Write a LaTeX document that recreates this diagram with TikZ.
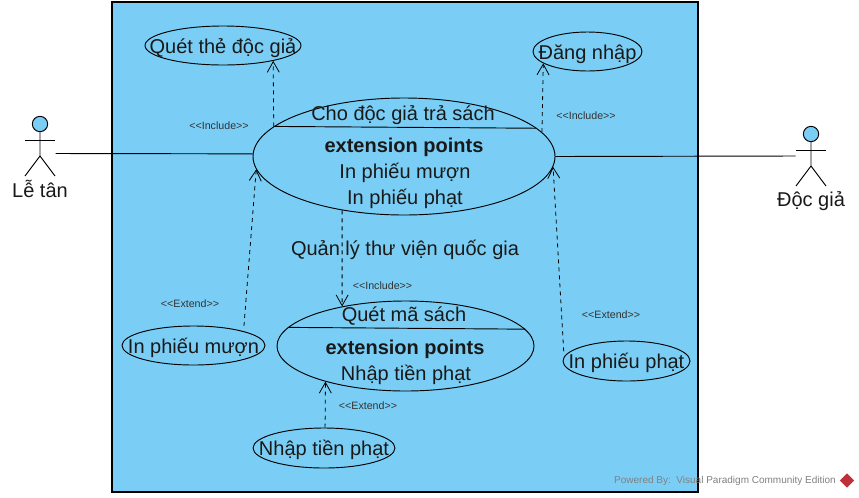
\documentclass[tikz,border=0pt]{standalone}
\usepackage{fontspec}
\setmainfont{Liberation Sans}
\usepackage{xcolor}
\usetikzlibrary{arrows.meta, positioning, shapes.geometric}
\definecolor{sysblue}{RGB}{122,206,245}
\definecolor{logored}{RGB}{190,50,55}

\begin{document}
\begin{tikzpicture}[
        x=0.75pt, y=-0.75pt,
        system/.style={rectangle, draw=black, line width=0.8pt, fill=sysblue, minimum width=439.5pt, minimum height=367.5pt, inner sep=0pt},
        usecase/.style={ellipse, draw=black, line width=0.7pt, inner sep=0pt, fill=sysblue},
        label/.style={font=\fontsize{15}{15}\selectfont, text=black!90, inner sep=0pt, text height=11pt, text depth=3pt},
        boldlabel/.style={label, font=\fontsize{15}{15}\selectfont\bfseries},
        stereo/.style={font=\fontsize{8}{8}\selectfont, text=black!80, inner sep=0pt},
        assoc/.style={line width=0.7pt},
        relation/.style={dashed, line width=0.6pt, -{Straight Barb[length=8pt, width=9pt]}},
        actorhead/.style={circle, draw=black, line width=0.7pt, fill=sysblue, minimum size=11.5pt, inner sep=0pt},
        actor/.pic={
            \node[actorhead] (-head) at (0,0) {};
            \draw[assoc] (-head.south) -- (0,32) -- (-15,52);
            \draw[assoc] (0,32) -- (15,52);
            \draw[assoc] (-15,16) -- (15,16);
        }
    ]
        \useasboundingbox (0,0) rectangle (859,497);

        % System
        \node[system] (library) at (405,247) {};
        \node[label] (libraryName) at (405,249.7) {Quản lý thư viện quốc gia};

        % Actors
        \pic (leTan) at (40,124) {actor};
        \pic (docGia) at (811,134) {actor};
        \node[label] (leTanName) at (40,191.9) {Lễ tân};
        \node[label] (docGiaName) at (811,201.4) {Độc giả};
        \coordinate (leTanHand) at (55.5,153.5);
        \coordinate (docGiaHand) at (795.5,156);

        % Use cases
        \node[usecase, minimum width=226.5pt, minimum height=87.75pt] (traSach) at (404,156.5) {};
        \node[label] (traSachName) at (403,114.7) {Cho độc giả trả sách};
        \node[boldlabel] (traSachExt) at (404,146.7) {extension points};
        \node[label] (traSachMuon) at (405,172.7) {In phiếu mượn};
        \node[label] (traSachPhat) at (405,198.7) {In phiếu phạt};
        \node[usecase, minimum width=192.75pt, minimum height=67.5pt] (quetMa) at (405.5,346) {};
        \node[label] (quetMaName) at (404,316.4) {Quét mã sách};
        \node[boldlabel] (quetMaExt) at (405,348.7) {extension points};
        \node[label] (quetMaTien) at (406,374.7) {Nhập tiền phạt};
        \node[usecase, minimum width=117pt, minimum height=29.25pt] (quetThe) at (223,45.5) {};
        \node[label] at (223,47.7) {Quét thẻ độc giả};
        \node[usecase, minimum width=81.75pt, minimum height=29.25pt] (dangNhap) at (587.5,51.5) {};
        \node[label] at (587.5,53.7) {Đăng nhập};
        \node[usecase, minimum width=107.25pt, minimum height=29.25pt] (inMuon) at (193.5,345.5) {};
        \node[label] at (193.5,348.2) {In phiếu mượn};
        \node[usecase, minimum width=95.25pt, minimum height=30pt] (inPhat) at (626.5,361) {};
        \node[label] at (626.5,363.4) {In phiếu phạt};
        \node[usecase, minimum width=106.5pt, minimum height=30pt] (nhapTien) at (324,448) {};
        \node[label] at (324,450.2) {Nhập tiền phạt};

        % Compartments
        \draw[assoc] (traSach.167.3) -- (traSach.12.7);
        \draw[assoc] (quetMa.171.9) -- (quetMa.8.1);

        % Relations
        \draw[assoc] (leTanHand) -- (traSach.179);
        \draw[assoc] (traSach.east) -- (docGiaHand);
        \draw[relation] (traSach.167.3) -- (quetThe.-17.2);
        \draw[relation] (traSach.10.3) -- (dangNhap.195.7);
        \draw[relation] (traSach.221.5) -- (quetMa.148.5);
        \draw[relation, shorten <=4pt] (inMuon.16.4) -- (traSach.185.25);
        \draw[relation, shorten <=4pt] (inPhat.176.8) -- (traSach.-4.9);
        \draw[relation] (nhapTien.87.6) -- (quetMa.204.4);

        % Stereotypes
        \node[stereo] at (219,125.5) {<{}<Include>{}>};
        \node[stereo] at (586,115.5) {<{}<Include>{}>};
        \node[stereo] at (382.5,285.5) {<{}<Include>{}>};
        \node[stereo] at (190,303.5) {<{}<Extend>{}>};
        \node[stereo] at (611,314.5) {<{}<Extend>{}>};
        \node[stereo] at (368,405.5) {<{}<Extend>{}>};

        % Watermark
        \node[font=\fontsize{7.5}{7.5}\selectfont, text=black!50, inner sep=0pt] (powered) at (725,480.5) {Powered By:\ \ Visual Paradigm Community Edition};
        \node[diamond, fill=logored, minimum size=11pt, inner sep=0pt, right=2.5pt of powered] (logo) {};
    \end{tikzpicture}
\end{document}
